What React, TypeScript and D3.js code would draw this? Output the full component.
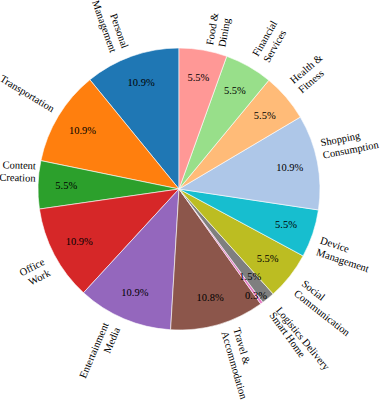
import React, { useEffect, useRef } from "react";
import * as d3 from "d3";

const labels = [
  "Personal\nManagement",
  "Transportation",
  "Content\nCreation",
  "Office\nWork",
  "Entertainment\nMedia",
  "Travel &\nAccommodation",
  "Smart Home",
  "Logistics Delivery",
  "Social\nCommunication",
  "Device\nManagement",
  "Shopping\nConsumption",
  "Health &\nFitness",
  "Financial\nServices",
  "Food &\nDining",
];
const values = [10.9, 10.9, 5.5, 10.9, 10.9, 10.8, 0.3, 1.5, 5.5, 5.5, 10.9, 5.5, 5.5, 5.5];
const colors = [
  "#1f77b4", "#ff7f0e", "#2ca02c", "#d62728", "#9467bd", "#8c564b", "#e377c2",
  "#7f7f7f", "#bcbd22", "#17becf", "#aec7e8", "#ffbb78", "#98df8a", "#ff9896",
];

const W = 383;
const H = 400;
const CX = 179;
const CY = 189;
const R = 141;
const LABEL_R = 143;
const FS = 10.5;
const LH = 12.5;
const FONT = '"Liberation Serif", "Times New Roman", serif';

export default function App() {
  const ref = useRef<SVGSVGElement | null>(null);

  useEffect(() => {
    const svg = d3.select(ref.current);
    svg.selectAll("*").remove();
    const g = svg.append("g").style("font-family", FONT).style("font-size", `${FS}px`);

    const pie = d3
      .pie<number>()
      .sort(null)
      .value((d) => d)
      .startAngle(0)
      .endAngle(-2 * Math.PI);
    const arcs = pie(values);
    const arc = d3.arc<d3.PieArcDatum<number>>().innerRadius(0).outerRadius(R);

    g.append("g")
      .attr("transform", `translate(${CX},${CY})`)
      .selectAll("path")
      .data(arcs)
      .join("path")
      .attr("d", arc as any)
      .attr("fill", (_d, i) => colors[i])
      .attr("stroke", "#ffffff")
      .attr("stroke-width", 0.6);

    arcs.forEach((a, i) => {
      const mid = (a.startAngle + a.endAngle) / 2;
      const theta = Math.PI / 2 - mid; // math angle
      const c = Math.cos(theta);
      const s = Math.sin(theta);

      // percentage text
      const pd = values[i] < 1 ? 0.93 : 0.8;
      g.append("text")
        .attr("x", CX + R * pd * c)
        .attr("y", CY - R * pd * s)
        .attr("text-anchor", "middle")
        .attr("dominant-baseline", "central")
        .style("font-family", FONT)
        .style("font-size", `${FS}px`)
        .attr("fill", "#000")
        .text(values[i].toFixed(1) + "%");

      // category label (rotated radially)
      const lr = values[i] < 2 ? LABEL_R + 6 : LABEL_R;
      const xt = CX + lr * c;
      const yt = CY - lr * s;
      const right = c > 0;
      const above = s > 0;
      const rot = (theta * 180) / Math.PI + (right ? 0 : 180);
      const lines = labels[i].split("\n");
      const lg = g.append("g");
      const els = lines.map((ln) =>
        lg
          .append("text")
          .style("font-family", FONT)
          .style("font-size", `${FS}px`)
          .attr("fill", "#000")
          .text(ln)
      );
      const widths = els.map((e) => (e.node() as SVGTextElement).getComputedTextLength());
      const w = Math.max(...widths);
      const h = lines.length * LH;
      els.forEach((e, j) => {
        e.attr("x", right ? -w / 2 : w / 2)
          .attr("text-anchor", right ? "start" : "end")
          .attr("y", -h / 2 + LH * j + LH * 0.76);
      });
      const rr = (rot * Math.PI) / 180;
      const bw = w * Math.abs(Math.cos(rr)) + h * Math.abs(Math.sin(rr));
      const bh = w * Math.abs(Math.sin(rr)) + h * Math.abs(Math.cos(rr));
      const bx = right ? xt + bw / 2 : xt - bw / 2;
      const by = above ? yt - bh / 2 : yt + bh / 2;
      lg.attr("transform", `translate(${bx},${by}) rotate(${-rot})`);
    });
  }, []);

  return (
    <svg
      ref={ref}
      width={W}
      height={H}
      style={{ position: "absolute", left: 0, top: 0, background: "#fff" }}
    />
  );
}
